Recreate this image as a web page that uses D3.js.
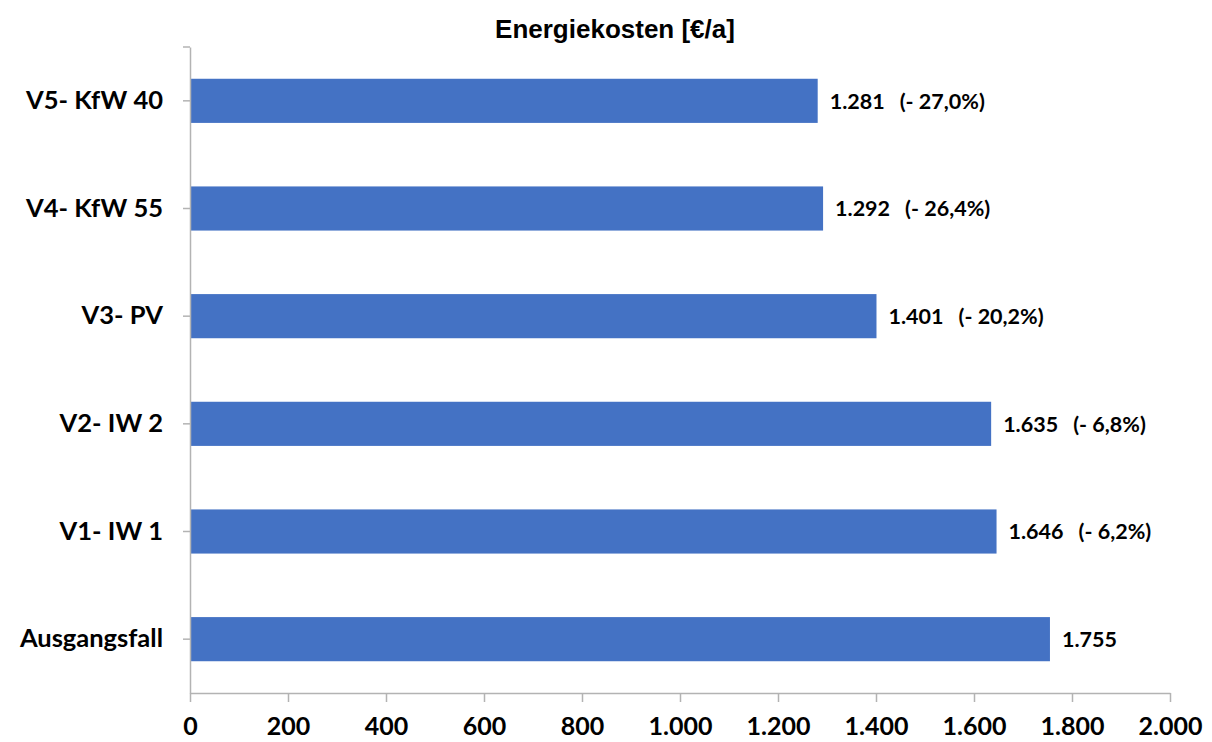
<!DOCTYPE html>
<html>
<head>
<meta charset="utf-8">
<script src="https://cdn.jsdelivr.net/npm/d3@7"></script>
<style>
  html, body { margin: 0; padding: 0; background: #fff; }
  svg { display: block; }
</style>
</head>
<body>
<svg id="chart" width="1212" height="742"></svg>
<script>
// Annual energy costs per variant (EUR/a)
const categories = ["V5- KfW 40", "V4- KfW 55", "V3- PV", "V2- IW 2", "V1- IW 1", "Ausgangsfall"];
const costs = [1281, 1292, 1401, 1635, 1646, 1755];
const changes = ["(- 27,0%)", "(- 26,4%)", "(- 20,2%)", "(- 6,8%)", "(- 6,2%)", ""];
const xTicks = [0, 200, 400, 600, 800, 1000, 1200, 1400, 1600, 1800, 2000];
const titleText = "Energiekosten [€/a]";

const svg = d3.select("#chart");
const margin = { top: 47, right: 42, bottom: 49, left: 190 };
const W = 1212, H = 742;
const innerW = W - margin.left - margin.right;
const innerH = H - margin.top - margin.bottom;

const fmt = d3.formatLocale({ decimal: ",", thousands: ".", grouping: [3], currency: ["", "€"] }).format(",d");

const x = d3.scaleLinear().domain([0, 2000]).range([0, innerW]);
const y = d3.scaleBand().domain(categories).range([0, innerH]).paddingInner(0.59).paddingOuter(0.295);

const g = svg.append("g").attr("transform", `translate(${margin.left},${margin.top})`);

const labelFont = "Lato, 'Open Sans', sans-serif";

// Title
svg.append("text")
  .attr("x", 615).attr("y", 38)
  .attr("text-anchor", "middle")
  .attr("font-family", "'Liberation Sans', Arial, sans-serif")
  .attr("font-weight", "bold")
  .attr("font-size", 26)
  .attr("fill", "#000")
  .text(titleText);

// Bars
g.selectAll("rect.bar")
  .data(categories)
  .join("rect")
  .attr("class", "bar")
  .attr("x", 0)
  .attr("y", d => y(d))
  .attr("width", (d, i) => x(costs[i]))
  .attr("height", y.bandwidth())
  .attr("fill", "#4472C4");

// Value labels
const vl = g.selectAll("text.val")
  .data(categories)
  .join("text")
  .attr("class", "val")
  .attr("x", (d, i) => x(costs[i]) + 12)
  .attr("y", d => y(d) + y.bandwidth() / 2)
  .attr("dy", "0.36em")
  .attr("font-family", labelFont)
  .attr("font-weight", "bold")
  .attr("font-size", 21.5)
  .attr("fill", "#000");
vl.append("tspan").text((d, i) => fmt(costs[i]));
vl.append("tspan").attr("dx", 15).text((d, i) => changes[i]);

// X axis
const xAxis = g.append("g")
  .attr("transform", `translate(0,${innerH})`)
  .call(d3.axisBottom(x).tickValues(xTicks).tickFormat(fmt).tickSize(9).tickSizeOuter(0));
xAxis.select(".domain").attr("stroke", "#b3b3b3").attr("stroke-width", 1.5);
xAxis.selectAll(".tick line").attr("stroke", "#b3b3b3").attr("stroke-width", 1.5);
xAxis.selectAll(".tick text")
  .attr("y", 24)
  .attr("dy", "0.71em")
  .attr("font-family", labelFont)
  .attr("font-weight", "bold")
  .attr("font-size", 25)
  .attr("fill", "#000");

// Y axis
const yAxis = g.append("g")
  .call(d3.axisLeft(y).tickSize(7).tickSizeOuter(0));
yAxis.select(".domain").attr("stroke", "#b3b3b3").attr("stroke-width", 1.5);
yAxis.selectAll(".tick line").attr("stroke", "#b3b3b3").attr("stroke-width", 1.5);
yAxis.selectAll(".tick text")
  .attr("x", -27)
  .attr("font-family", labelFont)
  .attr("font-weight", "bold")
  .attr("font-size", 25.5)
  .attr("fill", "#000");
// top end tick on the category axis
yAxis.append("line")
  .attr("x1", -7).attr("x2", 0).attr("y1", 0).attr("y2", 0)
  .attr("stroke", "#b3b3b3").attr("stroke-width", 1.5);
</script>
</body>
</html>
